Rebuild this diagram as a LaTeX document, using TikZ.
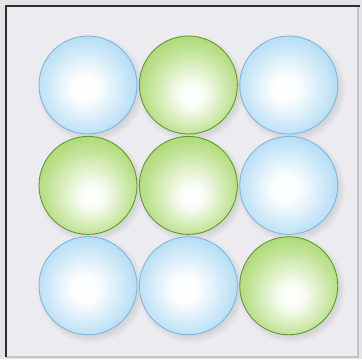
\documentclass[tikz,border=0pt]{standalone}
\usepackage{tikz}
\usepackage{xcolor}
\usetikzlibrary{positioning,shadows}
\definecolor{Outer}{HTML}{E4E4E6}
\definecolor{Panel}{HTML}{ECECF0}
\definecolor{Frame}{HTML}{2E2E30}
\definecolor{FrameSoft}{HTML}{C4C4C8}
\definecolor{Sky}{HTML}{86C8EE}
\definecolor{SkyRim}{HTML}{7DB6DF}
\definecolor{Leaf}{HTML}{8CCB3C}
\definecolor{LeafRim}{HTML}{5E9A28}
\pgfdeclareradialshading{skyball}{\pgfpoint{-2bp}{-2bp}}{color(0bp)=(white); color(7bp)=(white!96!Sky); color(24bp)=(Sky!55!white); color(38bp)=(Sky!90!white); color(50bp)=(Sky)}
\pgfdeclareradialshading{leafball}{\pgfpoint{2bp}{-6bp}}{color(0bp)=(white); color(6bp)=(white!95!Leaf); color(22bp)=(Leaf!55!white); color(36bp)=(Leaf!92!white); color(50bp)=(Leaf!92!black)}
\tikzset{
  ball/.style={circle,minimum size=1.96cm,inner sep=0pt,line width=0.5pt,
    circular drop shadow={shadow xshift=0.05cm,shadow yshift=-0.06cm,opacity=0.22}},
  blueball/.style={ball,shading=skyball,draw=SkyRim},
  greenball/.style={ball,shading=leafball,draw=LeafRim}
}
\begin{document}
\begin{tikzpicture}[node distance=0.03cm]
  % background and frame
  \fill[Outer] (0,0) rectangle (7.24,-7.18);
  \fill[Panel] (0.12,-0.12) rectangle (7.16,-7.14);
  \draw[FrameSoft,line width=0.6pt] (7.16,-0.12) -- (7.16,-7.14) -- (0.12,-7.14);
  \draw[Frame,line width=1.2pt] (0.12,-7.14) -- (0.12,-0.12) -- (7.20,-0.12);
  \useasboundingbox (0,0) rectangle (7.24,-7.18);
  % top row
  \node[blueball] (b11) at (1.76,-1.70) {};
  \node[greenball,right=of b11] (b12) {};
  \node[blueball,right=of b12] (b13) {};
  % middle row
  \node[greenball,below=of b11] (b21) {};
  \node[greenball,right=of b21] (b22) {};
  \node[blueball,right=of b22] (b23) {};
  % bottom row
  \node[blueball,below=of b21] (b31) {};
  \node[blueball,right=of b31] (b32) {};
  \node[greenball,right=of b32] (b33) {};
\end{tikzpicture}
\end{document}
